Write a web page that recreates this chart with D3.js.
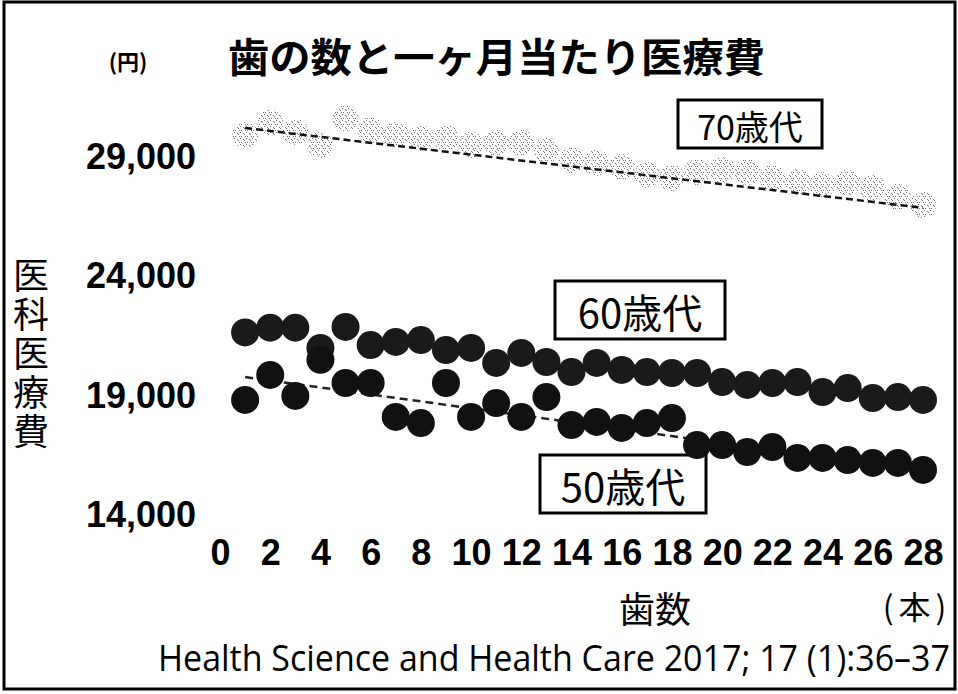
<!DOCTYPE html>
<html><head><meta charset="utf-8">
<script src="https://cdn.jsdelivr.net/npm/d3@7"></script>
<style>
html,body{margin:0;padding:0;background:#fff;}
svg{display:block;}
</style></head>
<body>
<svg id="chart" width="958" height="694"></svg>
<script>
// ---- data ----
const teeth = [1,2,3,4,5,6,7,8,9,10,11,12,13,14,15,16,17,18,19,20,21,22,23,24,25,26,27,28];
const cost70s = [29920,30430,30050,29500,30630,30130,29920,29800,29800,29500,29590,29590,29290,28870,28750,28580,28250,28120,28370,28460,28370,28120,27950,27830,27910,27700,27320,26990];
const cost60s = [21650,21850,21850,21000,21880,21120,21250,21330,20910,21000,20370,20790,20410,19990,20370,20080,19990,19950,19950,19570,19450,19530,19570,19150,19320,18900,18940,18820];
const cost50s = [18820,19870,18990,20500,19530,19530,18110,17850,19530,18110,18690,18110,18940,17770,17900,17650,17850,18060,16930,16930,16640,16850,16390,16390,16300,16180,16180,15890];
const trend70 = [[1,30215],[28,26870]];
const trend50 = [[1,19780],[28,15850]];
const xTicks = [0,2,4,6,8,10,12,14,16,18,20,22,24,26,28];
const yTicks = [14000,19000,24000,29000];
const seriesLabels = ["70歳代","60歳代","50歳代"];
const titleText = "歯の数と一ヶ月当たり医療費";
const yUnit = "(円)";
const yTitle = "医科医療費";
const xTitle = "歯数";
const xUnit = "(本)";
const source = "Health Science and Health Care 2017; 17 (1):36\u201337";

// ---- chart ----
const svg = d3.select("#chart");
const x = d3.scaleLinear().domain([0,28]).range([220,923]);
const y = d3.scaleLinear().domain([14000,29000]).range([515,157]);

// frame
svg.append("rect").attr("x",4).attr("y",2).attr("width",951).attr("height",687)
  .attr("fill","#fff").attr("stroke","#000").attr("stroke-width",3);

// speckle pattern for 70s
const defs = svg.append("defs");
const pat = defs.append("pattern").attr("id","speck").attr("patternUnits","userSpaceOnUse")
  .attr("width",6).attr("height",6);
pat.append("rect").attr("width",6).attr("height",6).attr("fill","#fff");
[[0,0],[3,1],[5,4],[1,4],[4,2]].forEach(p=>{
  pat.append("rect").attr("x",p[0]).attr("y",p[1]).attr("width",1).attr("height",1).attr("fill","#777");
});

// title
svg.append("text").attr("x",228).attr("y",55).attr("dominant-baseline","central")
  .attr("font-family","Noto Sans CJK JP").attr("font-weight",700).attr("font-size",40)
  .attr("textLength",537).attr("lengthAdjust","spacingAndGlyphs").text(titleText);
svg.append("text").attr("x",128).attr("y",60).attr("dominant-baseline","central").attr("text-anchor","middle")
  .attr("font-family","Noto Sans CJK JP").attr("font-weight",700).attr("font-size",22).text(yUnit);

// axes
const yAxis = d3.axisLeft(y).tickValues(yTicks).tickSize(0).tickPadding(4).tickFormat(d3.format(","));
const gy = svg.append("g").attr("transform","translate(200,0)").call(yAxis);
gy.select(".domain").remove();
gy.selectAll("text").attr("font-family","Liberation Sans").attr("font-weight",700).attr("font-size",36).attr("fill","#000");

const xAxis = d3.axisBottom(x).tickValues(xTicks).tickSize(0).tickPadding(6).tickFormat(d3.format("d"));
const gx = svg.append("g").attr("transform","translate(0,533)").call(xAxis);
gx.select(".domain").remove();
gx.selectAll("text").attr("font-family","Liberation Sans").attr("font-weight",700).attr("font-size",36).attr("fill","#000");

// y title vertical
svg.append("text").attr("x",31).attr("y",257)
  .attr("writing-mode","vertical-rl").attr("letter-spacing",3)
  .attr("font-family","Noto Sans CJK JP").attr("font-size",36).text(yTitle);

// x title & unit
svg.append("text").attr("x",655).attr("y",607).attr("text-anchor","middle").attr("dominant-baseline","central")
  .attr("font-family","Noto Sans CJK JP").attr("font-size",36).text(xTitle);
svg.append("text").attr("x",917).attr("y",605).attr("text-anchor","middle").attr("dominant-baseline","central")
  .attr("font-family","Noto Sans CJK JP").attr("font-size",32).attr("letter-spacing",5).text(xUnit);

// source (horizontally condensed to fit its width in the reference)
const src = svg.append("text").attr("x",0).attr("y",0)
  .attr("font-family","Open Sans").attr("font-size",36).text(source);
const natural = src.node().getComputedTextLength();
src.attr("transform",`translate(158,671) scale(${792/natural},1)`);

// series label boxes
const boxes = [
  {t:seriesLabels[0], x0:678,y0:100,w:144,h:48, fs:34},
  {t:seriesLabels[1], x0:555,y0:281,w:170,h:58, fs:40},
  {t:seriesLabels[2], x0:540,y0:455,w:166,h:58, fs:40}
];
boxes.forEach(b=>{
  svg.append("rect").attr("x",b.x0).attr("y",b.y0).attr("width",b.w).attr("height",b.h)
    .attr("fill","#fff").attr("stroke","#000").attr("stroke-width",3);
  svg.append("text").attr("x",b.x0+b.w/2).attr("y",b.y0+b.h/2+1).attr("text-anchor","middle").attr("dominant-baseline","central")
    .attr("font-family","Noto Sans CJK JP").attr("font-size",b.fs).text(b.t);
});

const line = d3.line().x(d=>x(d[0])).y(d=>y(d[1]));

// 70s dots
svg.append("g").selectAll("circle").data(teeth).join("circle")
  .attr("cx",d=>x(d)).attr("cy",(d,i)=>y(cost70s[i])).attr("r",13)
  .attr("fill","url(#speck)");
svg.append("path").attr("d",line(trend70)).attr("fill","none").attr("stroke","#111")
  .attr("stroke-width",2.5).attr("stroke-dasharray","7,4");

// 50s trend (behind dots)
svg.append("path").attr("d",line(trend50)).attr("fill","none").attr("stroke","#222")
  .attr("stroke-width",2.5).attr("stroke-dasharray","8,5");

// 60s dots
svg.append("g").selectAll("circle").data(teeth).join("circle")
  .attr("cx",d=>x(d)).attr("cy",(d,i)=>y(cost60s[i])).attr("r",14)
  .attr("fill","#1a1a1a");
// 50s dots
svg.append("g").selectAll("circle").data(teeth).join("circle")
  .attr("cx",d=>x(d)).attr("cy",(d,i)=>y(cost50s[i])).attr("r",14)
  .attr("fill","#111");
</script>
</body></html>
